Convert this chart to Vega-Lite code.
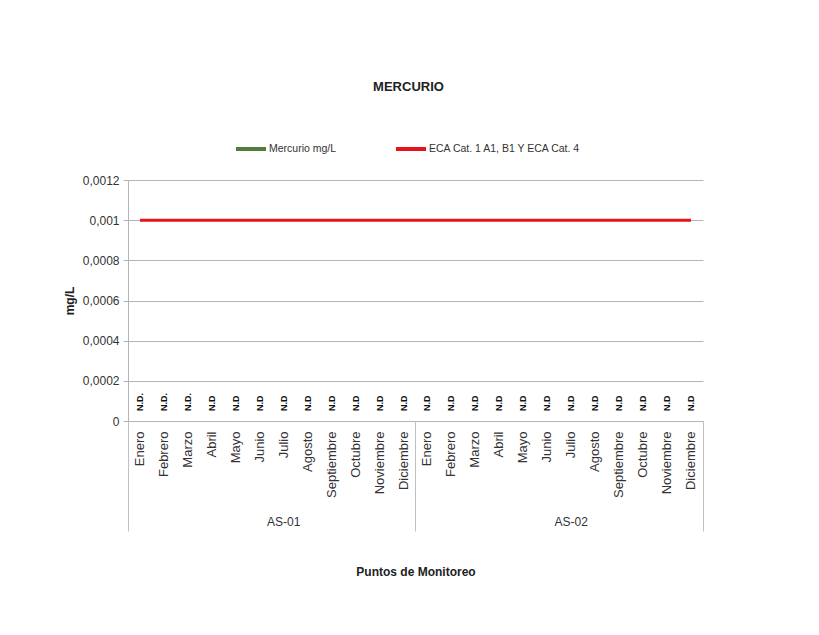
{
  "$schema": "https://vega.github.io/schema/vega-lite/v6.json",
  "width": 575,
  "height": 241,
  "autosize": {"type": "none"},
  "padding": {"left": 128, "top": 180, "right": 116, "bottom": 214},
  "background": "#ffffff",
  "config": {
    "font": "Liberation Sans",
    "view": {"stroke": null},
    "axis": {"labelFont": "Liberation Sans", "titleFont": "Liberation Sans", "labelColor": "#333333", "titleColor": "#222222"}
  },
  "title": {"text": "MERCURIO", "fontSize": 13, "fontWeight": "bold", "color": "#222222", "offset": 38, "dx": -7},
  "data": {
    "values": [
      {"punto": "AS-01", "mes": "Enero", "valor": 0, "etiqueta": "N.D.", "eca": 0.001},
      {"punto": "AS-01", "mes": "Febrero", "valor": 0, "etiqueta": "N.D.", "eca": 0.001},
      {"punto": "AS-01", "mes": "Marzo", "valor": 0, "etiqueta": "N.D.", "eca": 0.001},
      {"punto": "AS-01", "mes": "Abril", "valor": 0, "etiqueta": "N.D", "eca": 0.001},
      {"punto": "AS-01", "mes": "Mayo", "valor": 0, "etiqueta": "N.D", "eca": 0.001},
      {"punto": "AS-01", "mes": "Junio", "valor": 0, "etiqueta": "N.D", "eca": 0.001},
      {"punto": "AS-01", "mes": "Julio", "valor": 0, "etiqueta": "N.D", "eca": 0.001},
      {"punto": "AS-01", "mes": "Agosto", "valor": 0, "etiqueta": "N.D", "eca": 0.001},
      {"punto": "AS-01", "mes": "Septiembre", "valor": 0, "etiqueta": "N.D", "eca": 0.001},
      {"punto": "AS-01", "mes": "Octubre", "valor": 0, "etiqueta": "N.D", "eca": 0.001},
      {"punto": "AS-01", "mes": "Noviembre", "valor": 0, "etiqueta": "N.D", "eca": 0.001},
      {"punto": "AS-01", "mes": "Diciembre", "valor": 0, "etiqueta": "N.D", "eca": 0.001},
      {"punto": "AS-02", "mes": "Enero", "valor": 0, "etiqueta": "N.D", "eca": 0.001},
      {"punto": "AS-02", "mes": "Febrero", "valor": 0, "etiqueta": "N.D", "eca": 0.001},
      {"punto": "AS-02", "mes": "Marzo", "valor": 0, "etiqueta": "N.D", "eca": 0.001},
      {"punto": "AS-02", "mes": "Abril", "valor": 0, "etiqueta": "N.D", "eca": 0.001},
      {"punto": "AS-02", "mes": "Mayo", "valor": 0, "etiqueta": "N.D", "eca": 0.001},
      {"punto": "AS-02", "mes": "Junio", "valor": 0, "etiqueta": "N.D", "eca": 0.001},
      {"punto": "AS-02", "mes": "Julio", "valor": 0, "etiqueta": "N.D", "eca": 0.001},
      {"punto": "AS-02", "mes": "Agosto", "valor": 0, "etiqueta": "N.D", "eca": 0.001},
      {"punto": "AS-02", "mes": "Septiembre", "valor": 0, "etiqueta": "N.D", "eca": 0.001},
      {"punto": "AS-02", "mes": "Octubre", "valor": 0, "etiqueta": "N.D", "eca": 0.001},
      {"punto": "AS-02", "mes": "Noviembre", "valor": 0, "etiqueta": "N.D", "eca": 0.001},
      {"punto": "AS-02", "mes": "Diciembre", "valor": 0, "etiqueta": "N.D", "eca": 0.001}
    ]
  },
  "transform": [{"calculate": "datum.punto + '|' + datum.mes", "as": "clave"}],
  "layer": [
    {
      "mark": {"type": "bar", "color": "#507d3c"},
      "encoding": {
        "x": {
          "field": "clave", "type": "nominal", "sort": null,
          "scale": {"paddingInner": 0, "paddingOuter": 0},
          "axis": {
            "orient": "bottom", "title": null, "labelExpr": "split(datum.label, '|')[1]",
            "labelAngle": -90, "ticks": false, "domain": true, "domainColor": "#b4b4b4",
            "labelPadding": 10, "labelFontSize": 13, "grid": false, "labelLimit": 200
          }
        },
        "y": {
          "field": "valor", "type": "quantitative",
          "scale": {"domain": [0, 0.0012], "nice": false},
          "axis": {
            "values": [0, 0.0002, 0.0004, 0.0006, 0.0008, 0.001, 0.0012],
            "labelExpr": "replace(toString(datum.value), '.', ',')",
            "grid": true, "gridColor": "#b4b4b4", "domainColor": "#b4b4b4", "tickColor": "#b4b4b4",
            "tickSize": 5, "labelPadding": 4, "labelFontSize": 12,
            "title": "mg/L", "titleFontSize": 12, "titleFontWeight": "bold", "titlePadding": 6
          }
        },
        "color": {
          "datum": "Mercurio mg/L", "type": "nominal",
          "scale": {"domain": ["Mercurio mg/L", "ECA Cat. 1 A1, B1 Y ECA Cat. 4"], "range": ["#507d3c", "#e3141b"]},
          "legend": {
            "title": null, "orient": "none", "direction": "horizontal", "legendX": 106, "legendY": -48,
            "symbolType": "stroke", "symbolSize": 900, "symbolStrokeWidth": 4,
            "labelFontSize": 10.5, "labelFont": "Liberation Sans", "labelColor": "#333333",
            "labelOffset": 1, "columnPadding": 51,
            "encode": {"symbols": {"update": {"stroke": {"scale": "color", "field": "value"}, "strokeWidth": {"value": 4}, "fill": {"value": "transparent"}}}}
          }
        }
      }
    },
    {
      "mark": {"type": "line", "strokeWidth": 3},
      "encoding": {
        "x": {
          "field": "clave", "type": "nominal", "sort": null,
          "axis": {
            "orient": "bottom", "values": ["AS-01|Julio", "AS-02|Julio"], "bandPosition": 0,
            "labelExpr": "split(datum.label, '|')[0]", "labelAngle": 0, "labelAlign": "center", "labelBaseline": "top",
            "ticks": false, "domain": false, "grid": false, "labelPadding": 95, "labelFontSize": 12,
            "title": "Puntos de Monitoreo", "titleFontSize": 12, "titleFontWeight": "bold", "titlePadding": 39
          }
        },
        "y": {"field": "eca", "type": "quantitative"},
        "color": {"datum": "ECA Cat. 1 A1, B1 Y ECA Cat. 4", "type": "nominal"}
      }
    },
    {
      "transform": [{"filter": "datum.punto === 'AS-01'"}],
      "mark": {"type": "text", "angle": 270, "align": "left", "baseline": "middle", "dx": 10, "fontSize": 9, "fontWeight": "bold", "color": "#111111"},
      "encoding": {
        "x": {
          "field": "clave", "type": "nominal", "sort": null,
          "axis": {
            "orient": "bottom", "values": ["AS-01|Enero", "AS-02|Enero"], "bandPosition": 0,
            "labels": false, "domain": false, "grid": false, "ticks": true, "tickSize": 110, "tickColor": "#c0c0c0", "title": null
          }
        },
        "y": {"field": "valor", "type": "quantitative"},
        "text": {"field": "etiqueta"}
      }
    },
    {
      "transform": [{"filter": "datum.punto === 'AS-02'"}],
      "mark": {"type": "text", "angle": 270, "align": "left", "baseline": "middle", "dx": 10, "fontSize": 9, "fontWeight": "bold", "color": "#111111"},
      "encoding": {
        "x": {
          "field": "clave", "type": "nominal", "sort": null,
          "axis": {
            "orient": "bottom", "values": ["AS-02|Diciembre"], "bandPosition": 1,
            "labels": false, "domain": false, "grid": false, "ticks": true, "tickSize": 110, "tickColor": "#c0c0c0", "title": null
          }
        },
        "y": {"field": "valor", "type": "quantitative"},
        "text": {"field": "etiqueta"}
      }
    }
  ],
  "resolve": {"axis": {"x": "independent", "y": "shared"}}
}
